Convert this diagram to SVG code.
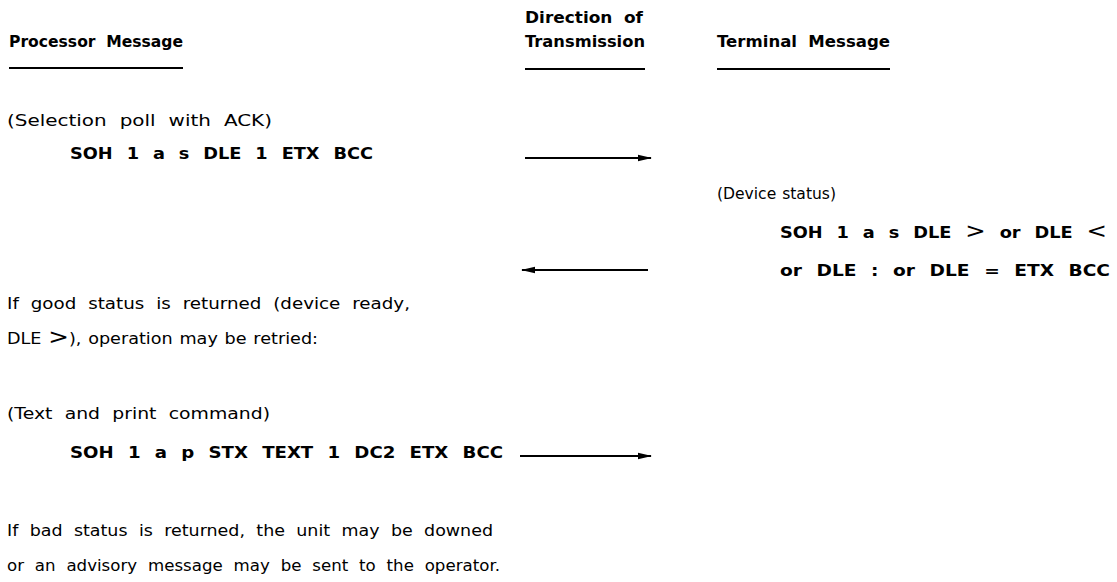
<svg xmlns="http://www.w3.org/2000/svg" width="1117" height="582" viewBox="0 0 1117 582">
<style>
text{font-family:"DejaVu Sans","Liberation Sans",Arial,sans-serif;fill:#000;font-size:15px;word-spacing:5px}
.b{font-weight:bold}
.k{font-weight:bold;font-size:16px;word-spacing:7px}
.t{word-spacing:1px}
.u{stroke:#000;stroke-width:2}
.c{stroke:#000;stroke-width:1.8;fill:none}
</style>
<defs>
<marker id="ah" markerWidth="14" markerHeight="8" refX="13" refY="4" orient="auto" markerUnits="userSpaceOnUse">
<path d="M0,0.8 L14,4 L0,7.2 Z" fill="#000"/>
</marker>
</defs>
<g id="headers">
<text class="b" x="9" y="47" textLength="174" lengthAdjust="spacingAndGlyphs">Processor Message</text>
<line class="u" x1="9" y1="68" x2="183" y2="68"/>
<text class="b" x="525" y="23" textLength="118" lengthAdjust="spacingAndGlyphs">Direction of</text>
<text class="b" x="525" y="47" textLength="120" lengthAdjust="spacingAndGlyphs">Transmission</text>
<line class="u" x1="525" y1="69" x2="645" y2="69"/>
<text class="b" x="717" y="47" textLength="173" lengthAdjust="spacingAndGlyphs">Terminal Message</text>
<line class="u" x1="717" y1="69" x2="890" y2="69"/>
</g>
<g id="selection-poll">
<text x="7" y="126" textLength="265" lengthAdjust="spacingAndGlyphs">(Selection poll with ACK)</text>
<text class="k" x="70" y="159" textLength="303" lengthAdjust="spacingAndGlyphs">SOH 1 a s DLE 1 ETX BCC</text>
</g>
<g id="device-status">
<text class="t" x="717" y="199" textLength="119" lengthAdjust="spacingAndGlyphs">(Device status)</text>
<text class="k" x="780" y="238" textLength="327" lengthAdjust="spacingAndGlyphs">SOH 1 a s DLE <tspan font-size="22" font-weight="normal">&gt;</tspan> or DLE <tspan font-size="22" font-weight="normal">&lt;</tspan></text>
<text class="k" x="780" y="276" textLength="330" lengthAdjust="spacingAndGlyphs">or DLE : or DLE = ETX BCC</text>
</g>
<g id="good-status">
<text x="7" y="309" textLength="403" lengthAdjust="spacingAndGlyphs">If good status is returned (device ready,</text>
<text class="t" x="7" y="344" textLength="311" lengthAdjust="spacingAndGlyphs">DLE <tspan font-size="21">&gt;</tspan>), operation may be retried:</text>
</g>
<g id="text-print">
<text x="7" y="419" textLength="263" lengthAdjust="spacingAndGlyphs">(Text and print command)</text>
<text class="k" x="70" y="458" textLength="433" lengthAdjust="spacingAndGlyphs">SOH 1 a p STX TEXT 1 DC2 ETX BCC</text>
</g>
<g id="bad-status">
<text x="7" y="536" textLength="486" lengthAdjust="spacingAndGlyphs">If bad status is returned, the unit may be downed</text>
<text x="7" y="571" textLength="493" lengthAdjust="spacingAndGlyphs">or an advisory message may be sent to the operator.</text>
</g>
<g id="connectors">
<line class="c" x1="525" y1="158" x2="651" y2="158" marker-end="url(#ah)"/>
<line class="c" x1="648" y1="270" x2="522" y2="270" marker-end="url(#ah)"/>
<line class="c" x1="520" y1="456" x2="651" y2="456" marker-end="url(#ah)"/>
</g>
</svg>
